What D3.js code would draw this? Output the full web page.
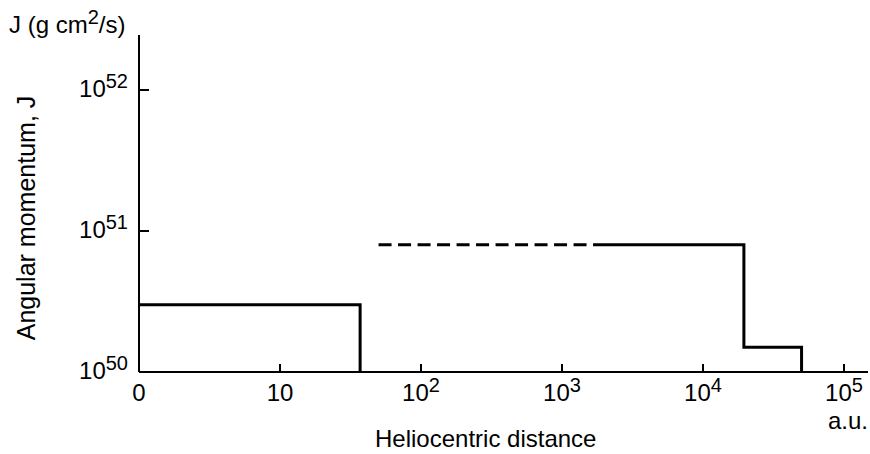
<!DOCTYPE html>
<html>
<head>
<meta charset="utf-8">
<script src="https://cdn.jsdelivr.net/npm/d3@7/dist/d3.min.js"></script>
<style>
  html, body { margin: 0; padding: 0; background: #fff; }
  svg { display: block; }
  text { font-family: "Liberation Sans", Arial, Helvetica, sans-serif; fill: #000; }
</style>
</head>
<body>
<svg id="chart" width="870" height="454"></svg>
<script>
// ---- data ----
const xTickValues = [1, 10, 100, 1000, 10000, 100000];
const xTickBase   = ["0", "10", "10", "10", "10", "10"];
const xTickExp    = ["", "", "2", "3", "4", "5"];
const yTickValues = [1e50, 1e51, 1e52];
const yTickExp    = ["50", "51", "52"];

// inner (solid) profile: distance (a.u.) and J (g cm^2/s)
const innerDist = [1, 37, 37];
const innerJ    = [3.0e50, 3.0e50, 1e50];
// outer dashed (uncertain) part
const dashedDist = [50, 1860];
const dashedJ    = [8.0e50, 8.0e50];
// outer solid part
const outerDist = [1860, 19500, 19500, 50000, 50000];
const outerJ    = [8.0e50, 8.0e50, 1.5e50, 1.5e50, 1e50];

// ---- layout ----
const svg = d3.select("#chart");
const x = d3.scaleLog().domain([1, 1e5]).range([139, 844]);
const y = d3.scaleLog().domain([1e50, 1e52]).range([372, 90]);
const yTop = 35, xRight = 868;
const FS = 24, SFS = 20;

// axes lines
svg.append("line").attr("x1", x(1)).attr("x2", xRight).attr("y1", y(1e50)).attr("y2", y(1e50))
  .attr("stroke", "#000").attr("stroke-width", 2);
svg.append("line").attr("x1", x(1)).attr("x2", x(1)).attr("y1", yTop).attr("y2", y(1e50))
  .attr("stroke", "#000").attr("stroke-width", 2);

// x ticks (pointing up)
xTickValues.forEach((v, i) => {
  if (i > 0) {
    svg.append("line").attr("x1", x(v)).attr("x2", x(v)).attr("y1", y(1e50)).attr("y2", y(1e50) - 8)
      .attr("stroke", "#000").attr("stroke-width", 2);
  }
  const t = svg.append("text").attr("x", x(v)).attr("y", 401).attr("text-anchor", "middle")
    .attr("font-size", FS);
  t.append("tspan").text(xTickBase[i]);
  if (xTickExp[i]) {
    t.append("tspan").attr("dy", -9).attr("font-size", SFS).text(xTickExp[i]);
  }
});

// y ticks (pointing right)
yTickValues.forEach((v, i) => {
  if (i > 0) {
    svg.append("line").attr("x1", x(1)).attr("x2", x(1) + 10).attr("y1", y(v)).attr("y2", y(v))
      .attr("stroke", "#000").attr("stroke-width", 2);
  }
  const t = svg.append("text").attr("x", 128).attr("y", y(v) + 7).attr("text-anchor", "end")
    .attr("font-size", FS);
  t.append("tspan").text("10");
  t.append("tspan").attr("dy", -9).attr("font-size", SFS).text(yTickExp[i]);
});

// data lines
const line = d3.line().x(d => x(d[0])).y(d => y(d[1]));
svg.append("path").datum(d3.zip(innerDist, innerJ)).attr("d", line)
  .attr("fill", "none").attr("stroke", "#000").attr("stroke-width", 3);
svg.append("path").datum(d3.zip(dashedDist, dashedJ)).attr("d", line)
  .attr("fill", "none").attr("stroke", "#000").attr("stroke-width", 3)
  .attr("stroke-dasharray", "13,6.5");
svg.append("path").datum(d3.zip(outerDist, outerJ)).attr("d", line)
  .attr("fill", "none").attr("stroke", "#000").attr("stroke-width", 3);

// labels
const unitLabel = svg.append("text").attr("x", 9).attr("y", 33).attr("font-size", FS);
unitLabel.append("tspan").text("J (g cm");
unitLabel.append("tspan").attr("dy", -9).attr("font-size", SFS).text("2");
unitLabel.append("tspan").attr("dy", 9).text("/s)");

svg.append("text").attr("transform", "translate(35,218) rotate(-90)")
  .attr("text-anchor", "middle").attr("font-size", 25).text("Angular momentum, J");

svg.append("text").attr("x", 375).attr("y", 447).attr("font-size", FS).text("Heliocentric distance");
svg.append("text").attr("x", 828).attr("y", 429).attr("font-size", FS).text("a.u.");
</script>
</body>
</html>
